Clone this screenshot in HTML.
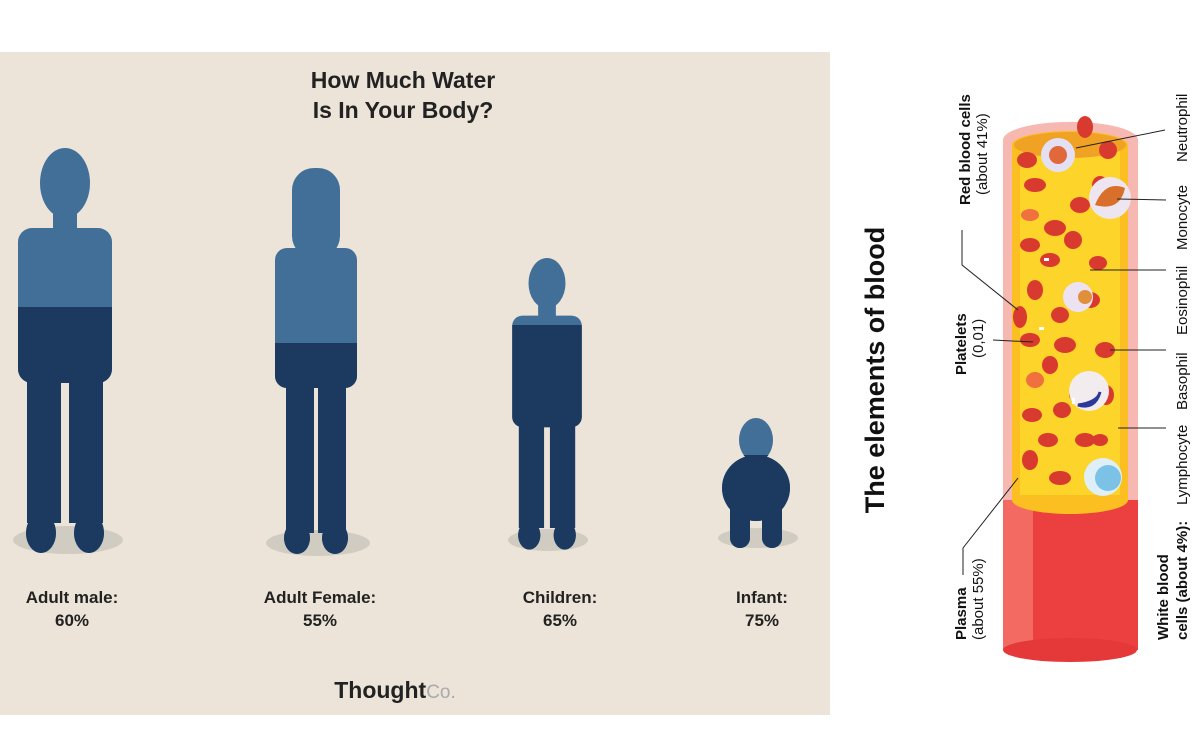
<!DOCTYPE html>
<html><head><meta charset="utf-8"><style>
html,body{margin:0;padding:0;background:#fff;}
svg{display:block;font-family:"Liberation Sans",sans-serif;}
</style></head><body>
<svg width="1200" height="750" viewBox="0 0 1200 750">
<defs>
  <g id="person">
    <ellipse cx="0" cy="35" rx="25" ry="35"/>
    <rect x="-12" y="60" width="24" height="30"/>
    <rect x="-47" y="80" width="94" height="155" rx="14"/>
    <rect x="-38" y="225" width="34" height="150"/>
    <rect x="4" y="225" width="34" height="150"/>
    <ellipse cx="-24" cy="385" rx="15" ry="20"/>
    <ellipse cx="24" cy="385" rx="15" ry="20"/>
  </g>
  <g id="woman">
    <rect x="-24" y="0" width="48" height="90" rx="22"/>
    <rect x="-41" y="80" width="82" height="140" rx="12"/>
    <rect x="-30" y="215" width="28" height="150"/>
    <rect x="2" y="215" width="28" height="150"/>
    <ellipse cx="-19" cy="370" rx="13" ry="16"/>
    <ellipse cx="19" cy="370" rx="13" ry="16"/>
  </g>
  <g id="baby">
    <ellipse cx="0" cy="22" rx="17" ry="22"/>
    <ellipse cx="0" cy="70" rx="34" ry="33"/>
    <rect x="-26" y="85" width="20" height="35"/>
    <rect x="6" y="85" width="20" height="35"/>
    <ellipse cx="-16" cy="120" rx="10" ry="10"/>
    <ellipse cx="16" cy="120" rx="10" ry="10"/>
  </g>
  <clipPath id="c1"><rect x="0" y="307" width="200" height="400"/></clipPath>
  <clipPath id="c2"><rect x="230" y="343" width="200" height="400"/></clipPath>
  <clipPath id="c3"><rect x="480" y="325" width="200" height="400"/></clipPath>
  <clipPath id="c4"><rect x="700" y="455" width="200" height="400"/></clipPath>
</defs>

<rect x="0" y="52" width="830" height="663" fill="#ece4d8"/>
<text x="403" y="88" text-anchor="middle" font-size="23" font-weight="bold" fill="#222">How Much Water</text>
<text x="403" y="118" text-anchor="middle" font-size="23" font-weight="bold" fill="#222">Is In Your Body?</text>

<g fill="#c9c5bd" opacity="0.8">
  <ellipse cx="68" cy="540" rx="55" ry="14"/>
  <ellipse cx="318" cy="543" rx="52" ry="13"/>
  <ellipse cx="548" cy="540" rx="40" ry="11"/>
  <ellipse cx="758" cy="538" rx="40" ry="10"/>
</g>

<g>
  <use href="#person" transform="translate(65,148) scale(1,1.0)" fill="#426f98"/>
  <g clip-path="url(#c1)"><use href="#person" transform="translate(65,148)" fill="#1c3a5f"/></g>
</g>
<g>
  <use href="#woman" transform="translate(316,168)" fill="#426f98"/>
  <g clip-path="url(#c2)"><use href="#woman" transform="translate(316,168)" fill="#1c3a5f"/></g>
</g>
<g>
  <use href="#person" transform="translate(547,258) scale(0.74,0.72)" fill="#426f98"/>
  <g clip-path="url(#c3)"><use href="#person" transform="translate(547,258) scale(0.74,0.72)" fill="#1c3a5f"/></g>
</g>
<g>
  <use href="#baby" transform="translate(756,418)" fill="#426f98"/>
  <g clip-path="url(#c4)"><use href="#baby" transform="translate(756,418)" fill="#1c3a5f"/></g>
</g>

<g font-size="17" font-weight="bold" fill="#222" text-anchor="middle">
  <text x="72" y="603">Adult male:</text>
  <text x="72" y="626">60%</text>
  <text x="320" y="603">Adult Female:</text>
  <text x="320" y="626">55%</text>
  <text x="560" y="603">Children:</text>
  <text x="560" y="626">65%</text>
  <text x="762" y="603">Infant:</text>
  <text x="762" y="626">75%</text>
</g>
<text x="395" y="698" text-anchor="middle" font-size="23" fill="#222"><tspan font-weight="bold">Thought</tspan><tspan fill="#aaa" font-size="19">Co.</tspan></text>

<!-- Blood -->
<text transform="translate(884,370) rotate(-90)" text-anchor="middle" font-size="27" font-weight="bold" fill="#111">The elements of blood</text>

<g>
  <path d="M1003,505 L1003,140 A67,18 0 0 1 1138,140 L1138,505 Z" fill="#f6b8b0"/>
  <rect x="1003" y="500" width="135" height="150" fill="#ec3f3f"/>
  <rect x="1003" y="500" width="30" height="150" fill="#f26a62"/>
  <ellipse cx="1070" cy="650" rx="67" ry="12" fill="#e53838"/>
  <path d="M1012,500 L1012,145 A58,14 0 0 1 1128,145 L1128,500 A58,14 0 0 1 1012,500 Z" fill="#fbbf22"/>
  <path d="M1020,150 L1020,495 L1120,495 L1120,150 Z" fill="#fdd42a"/>
  <ellipse cx="1070" cy="145" rx="56" ry="13" fill="#f0a224"/>
</g>
<g fill="#d93a2f">
  <ellipse cx="1085" cy="127" rx="8" ry="11"/><ellipse cx="1027" cy="160" rx="10" ry="8"/>
  <ellipse cx="1108" cy="150" rx="9" ry="9"/><ellipse cx="1035" cy="185" rx="11" ry="7"/>
  <ellipse cx="1080" cy="205" rx="10" ry="8"/><ellipse cx="1100" cy="185" rx="8" ry="9"/>
  <ellipse cx="1030" cy="215" rx="9" ry="6" fill="#f07040"/><ellipse cx="1055" cy="228" rx="11" ry="8"/>
  <ellipse cx="1073" cy="240" rx="9" ry="9"/><ellipse cx="1030" cy="245" rx="10" ry="7"/>
  <ellipse cx="1050" cy="260" rx="10" ry="7"/><ellipse cx="1098" cy="263" rx="9" ry="7"/>
  <ellipse cx="1035" cy="290" rx="8" ry="10"/><ellipse cx="1020" cy="317" rx="7" ry="11"/>
  <ellipse cx="1060" cy="315" rx="9" ry="8"/><ellipse cx="1090" cy="300" rx="10" ry="8"/>
  <ellipse cx="1030" cy="340" rx="10" ry="7"/><ellipse cx="1065" cy="345" rx="11" ry="8"/>
  <ellipse cx="1105" cy="350" rx="10" ry="8"/><ellipse cx="1050" cy="365" rx="8" ry="9"/>
  <ellipse cx="1035" cy="380" rx="9" ry="8" fill="#f07040"/><ellipse cx="1080" cy="395" rx="11" ry="8"/>
  <ellipse cx="1106" cy="395" rx="8" ry="10"/><ellipse cx="1032" cy="415" rx="10" ry="7"/>
  <ellipse cx="1062" cy="410" rx="9" ry="8"/><ellipse cx="1048" cy="440" rx="10" ry="7"/>
  <ellipse cx="1085" cy="440" rx="10" ry="7"/><ellipse cx="1030" cy="460" rx="8" ry="10"/>
  <ellipse cx="1060" cy="478" rx="11" ry="7"/><ellipse cx="1100" cy="440" rx="8" ry="6"/>
  <ellipse cx="1098" cy="487" rx="10" ry="6"/>
</g>
<g>
  <circle cx="1058" cy="155" r="17" fill="#e4e0f4"/><circle cx="1058" cy="155" r="9" fill="#e0683a"/>
  <circle cx="1110" cy="198" r="21" fill="#ede5f0"/><path d="M1095,205 Q1105,180 1125,188 Q1120,212 1095,205Z" fill="#d8702c"/>
  <circle cx="1078" cy="297" r="15" fill="#ece2f2"/><circle cx="1085" cy="297" r="7" fill="#e0903a"/>
  <circle cx="1089" cy="391" r="20" fill="#f3ecef"/><path d="M1078,405 Q1095,410 1100,392 Q1098,402 1078,405Z" fill="#2b3a9a" stroke="#2b3a9a" stroke-width="3"/>
  <circle cx="1103" cy="477" r="19" fill="#dfeff8"/><circle cx="1108" cy="478" r="13" fill="#7bc2e6"/>
  <rect x="1039" y="327" width="5" height="3" fill="#fff"/><rect x="1044" y="258" width="5" height="3" fill="#fff"/><rect x="1072" y="398" width="3" height="6" fill="#fff"/>
</g>
<g stroke="#222" stroke-width="1" fill="none">
  <polyline points="962,230 962,265 1018,310"/>
  <polyline points="993,340 1033,342"/>
  <polyline points="963,575 963,548 1018,478"/>
  <line x1="1165" y1="130" x2="1076" y2="148"/>
  <line x1="1166" y1="200" x2="1117" y2="199"/>
  <line x1="1166" y1="270" x2="1090" y2="270"/>
  <line x1="1166" y1="350" x2="1110" y2="350"/>
  <line x1="1166" y1="428" x2="1118" y2="428"/>
</g>
<g font-size="15" fill="#111">
  <text transform="translate(970,205) rotate(-90)" font-weight="bold">Red blood cells</text>
  <text transform="translate(987,195) rotate(-90)">(about 41%)</text>
  <text transform="translate(966,375) rotate(-90)" font-weight="bold">Platelets</text>
  <text transform="translate(983,358) rotate(-90)">(0,01)</text>
  <text transform="translate(966,640) rotate(-90)" font-weight="bold">Plasma</text>
  <text transform="translate(983,640) rotate(-90)">(about 55%)</text>
  <text transform="translate(1168,640) rotate(-90)" font-weight="bold">White blood</text>
  <text transform="translate(1187,640) rotate(-90)" font-weight="bold">cells (about 4%):</text>
  <text transform="translate(1187,505) rotate(-90)">Lymphocyte</text>
  <text transform="translate(1187,410) rotate(-90)">Basophil</text>
  <text transform="translate(1187,335) rotate(-90)">Eosinophil</text>
  <text transform="translate(1187,250) rotate(-90)">Monocyte</text>
  <text transform="translate(1187,162) rotate(-90)">Neutrophil</text>
</g>
</svg>
</body></html>
